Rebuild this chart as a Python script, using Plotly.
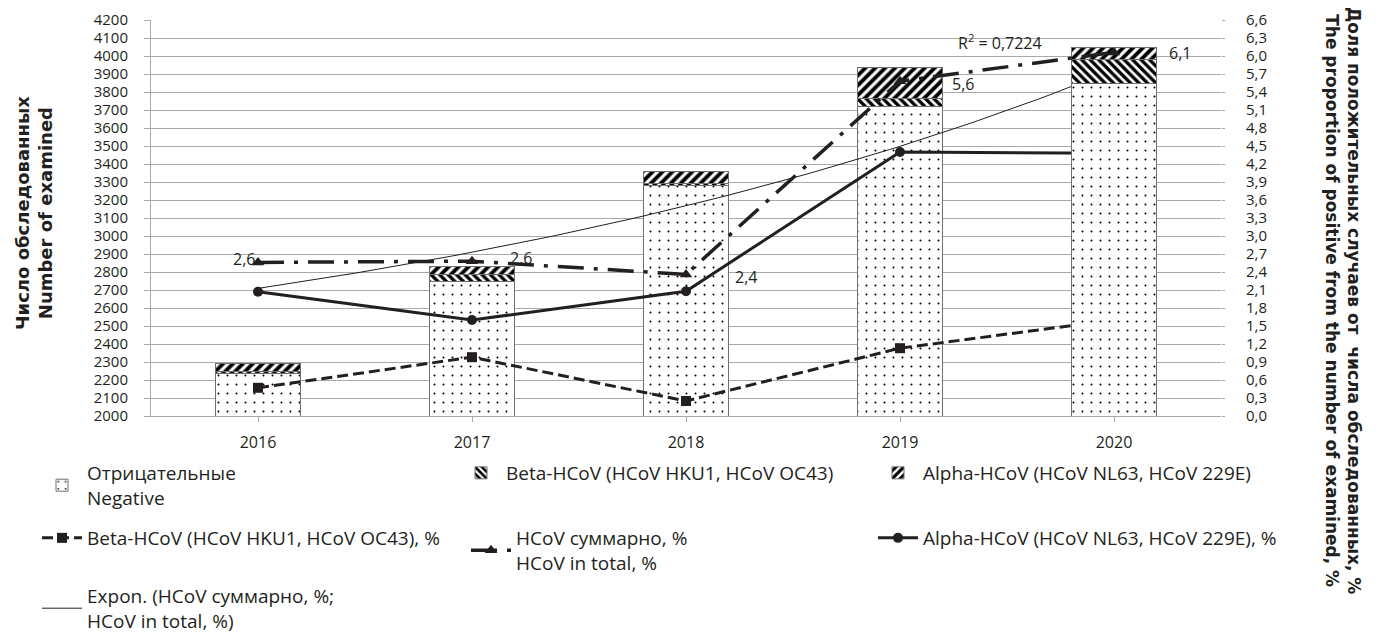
import numpy as np
import plotly.graph_objects as go

# ---------------- data ----------------
years = ["2016", "2017", "2018", "2019", "2020"]
negative = [2237, 2750, 3283, 3722, 3850]      # Отрицательные / Negative
beta_n = [10, 35, 8, 44, 130]                  # Beta-HCoV count
alpha_n = [47, 48, 70, 170, 65]                # Alpha-HCoV count
beta_pct = [0.47, 0.98, 0.25, 1.13, 1.60]      # Beta-HCoV, %
alpha_pct = [2.07, 1.60, 2.08, 4.40, 4.38]     # Alpha-HCoV, %
total_pct = [2.56, 2.58, 2.36, 5.58, 6.06]     # HCoV суммарно, %
r2_text = "R<sup>2</sup> = 0,7224"

INK = "#231f20"
GRID = "#a9a9a9"
FONT = "Open Sans"
TFONT = "DejaVu Sans"
FS = 16
TKS = 15
LFS = 19

# page body has an 8px margin: figure is sized to the window minus it
OFF = 8
PL, PR, PT, PB = 151, 1221, 20, 416   # plot area in window pixels


def px(x):
    return (x - PL) / (PR - PL)


def py(y):
    return (PB - y) / (PB - PT)


xs = list(range(len(years)))

# exponential trend of the total series (as in the source spreadsheet)
coef = np.polyfit(xs, np.log(total_pct), 1)
tx = np.linspace(0, len(years) - 1, 81)
ty = np.exp(np.polyval(coef, tx))

fig = go.Figure()

bar_styles = {
    "neg": dict(color="white", line=dict(color="#6f6f6f", width=1),
                pattern=dict(shape=".", fgcolor="#000000", bgcolor="white", size=9,
                             solidity=0.04, fgopacity=1)),
    "beta": dict(color="white", line=dict(color="#6f6f6f", width=1),
                 pattern=dict(shape="\\", fgcolor="#000000", bgcolor="white", size=6,
                              solidity=0.55, fgopacity=1)),
    "alpha": dict(color="white", line=dict(color="#6f6f6f", width=1),
                  pattern=dict(shape="/", fgcolor="#000000", bgcolor="white", size=7,
                               solidity=0.55, fgopacity=1)),
}

# bars 2016-2019 on primary axis
n0 = 4
fig.add_trace(go.Bar(x=xs[:n0], y=negative[:n0], width=0.4, marker=bar_styles["neg"],
                     name="Отрицательные<br>Negative", legend="legend", yaxis="y"))
fig.add_trace(go.Bar(x=xs[:n0], y=beta_n[:n0], width=0.4, marker=bar_styles["beta"],
                     name="Beta-HCoV (HCoV HKU1, HCoV OC43)", legend="legend2", yaxis="y"))
fig.add_trace(go.Bar(x=xs[:n0], y=alpha_n[:n0], width=0.4, marker=bar_styles["alpha"],
                     name="Alpha-HCoV (HCoV NL63, HCoV 229E)", legend="legend3", yaxis="y"))

# percent lines (drawn under the 2020 bar)
fig.add_trace(go.Scatter(x=xs, y=beta_pct, yaxis="y2", mode="lines+markers",
                         line=dict(color=INK, width=3, dash="11px,5px"),
                         marker=dict(symbol="square", size=10, color=INK),
                         name="Beta-HCoV (HCoV HKU1, HCoV OC43), %", legend="legend4"))
fig.add_trace(go.Scatter(x=xs, y=alpha_pct, yaxis="y2", mode="lines+markers",
                         line=dict(color=INK, width=3),
                         marker=dict(symbol="circle", size=10, color=INK),
                         name="Alpha-HCoV (HCoV NL63, HCoV 229E), %", legend="legend6"))
fig.add_trace(go.Scatter(x=tx, y=ty, yaxis="y2", mode="lines",
                         line=dict(color=INK, width=1),
                         name="Expon. (HCoV суммарно, %;<br>HCoV in total, %)", legend="legend7"))

# 2020 bar on an overlay axis so it covers the lines beneath
fig.add_trace(go.Bar(x=xs[n0:], y=negative[n0:], width=0.4, marker=bar_styles["neg"],
                     yaxis="y3", showlegend=False))
fig.add_trace(go.Bar(x=xs[n0:], y=beta_n[n0:], width=0.4, marker=bar_styles["beta"],
                     yaxis="y3", showlegend=False))
fig.add_trace(go.Bar(x=xs[n0:], y=alpha_n[n0:], width=0.4, marker=bar_styles["alpha"],
                     yaxis="y3", showlegend=False))

# total line on top
fig.add_trace(go.Scatter(x=xs, y=total_pct, yaxis="y4", mode="lines+markers",
                         line=dict(color=INK, width=3.5, dash="26px,10px,4px,10px"),
                         marker=dict(symbol="triangle-up", size=11, color=INK),
                         name="HCoV суммарно, %<br>HCoV in total, %", legend="legend5"))

# data labels of the total series
label_shift = [(-14, 3), (49, 3), (60, -3), (63, -3), (66, -1)]
annotations = []
for i, v in enumerate(total_pct):
    annotations.append(dict(x=xs[i], y=v, xref="x", yref="y4",
                            text=f"{v:.1f}".replace(".", ","), showarrow=False,
                            xshift=label_shift[i][0], yshift=label_shift[i][1],
                            font=dict(family=FONT, size=FS, color=INK)))
annotations.append(dict(x=px(1000), y=py(42), xref="paper", yref="paper",
                        xanchor="center", yanchor="middle",
                        text=r2_text, showarrow=False,
                        font=dict(family=FONT, size=FS, color=INK)))
annotations.append(dict(x=px(34), y=py(213), xref="paper", yref="paper",
                        xanchor="center", yanchor="middle",
                        text="<b>Число обследованных<br>Number of examined</b>",
                        textangle=-90, showarrow=False,
                        font=dict(family=TFONT, size=18, color=INK)))
annotations.append(dict(x=px(1343), y=py(300), xref="paper", yref="paper",
                        xanchor="center", yanchor="middle",
                        text="<b>Доля положительных случаев от  числа обследованных, %<br>"
                             "The proportion of positive from the number of examined, %</b>",
                        textangle=90, showarrow=False,
                        font=dict(family=TFONT, size=17, color=INK)))


def leg(x_text, y_center):
    return dict(x=px(x_text - 51), y=py(y_center - 19), xanchor="left", yanchor="top",
                bgcolor="rgba(0,0,0,0)", font=dict(family=FONT, size=LFS, color=INK),
                itemwidth=40, tracegroupgap=0)


fig.update_layout(
    width=1382 - OFF, height=635 - OFF,
    margin=dict(l=PL - OFF, r=(1382 - OFF) - (PR - OFF), t=PT - OFF,
                b=(635 - OFF) - (PB - OFF), autoexpand=False),
    paper_bgcolor="white", plot_bgcolor="white",
    separators=", ",
    barmode="stack",
    font=dict(family=FONT, size=FS, color=INK),
    xaxis=dict(range=[-0.5, 4.5], tickvals=xs, ticktext=years, showgrid=False,
               showline=True, linecolor=GRID, ticks="outside", ticklen=5, tickcolor=GRID,
               zeroline=False, tickfont=dict(family=FONT, size=FS, color=INK),
               ticklabelstandoff=7),
    yaxis=dict(range=[2000, 4200], dtick=100, showgrid=True, gridcolor=GRID,
               showline=True, linecolor=GRID, ticks="outside", ticklen=6, tickcolor=GRID,
               zeroline=False, tickfont=dict(family=FONT, size=TKS, color=INK),
               ticklabelstandoff=13),
    yaxis2=dict(range=[0, 6.6], dtick=0.3, tickformat=".1f", overlaying="y", side="right",
                showgrid=False, showline=False, ticks="outside", ticklen=3, tickcolor=GRID,
                zeroline=False, tickfont=dict(family=FONT, size=TKS, color=INK),
                ticklabelstandoff=18),
    yaxis3=dict(range=[2000, 4200], overlaying="y", visible=False),
    yaxis4=dict(range=[0, 6.6], overlaying="y", visible=False),
    legend=leg(88, 473),
    legend2=leg(507, 473),
    legend3=leg(924, 473),
    legend4=leg(88, 538),
    legend5=leg(517, 538),
    legend6=leg(924, 538),
    legend7=leg(88, 596),
    annotations=annotations,
)

fig.write_html("out.html")
